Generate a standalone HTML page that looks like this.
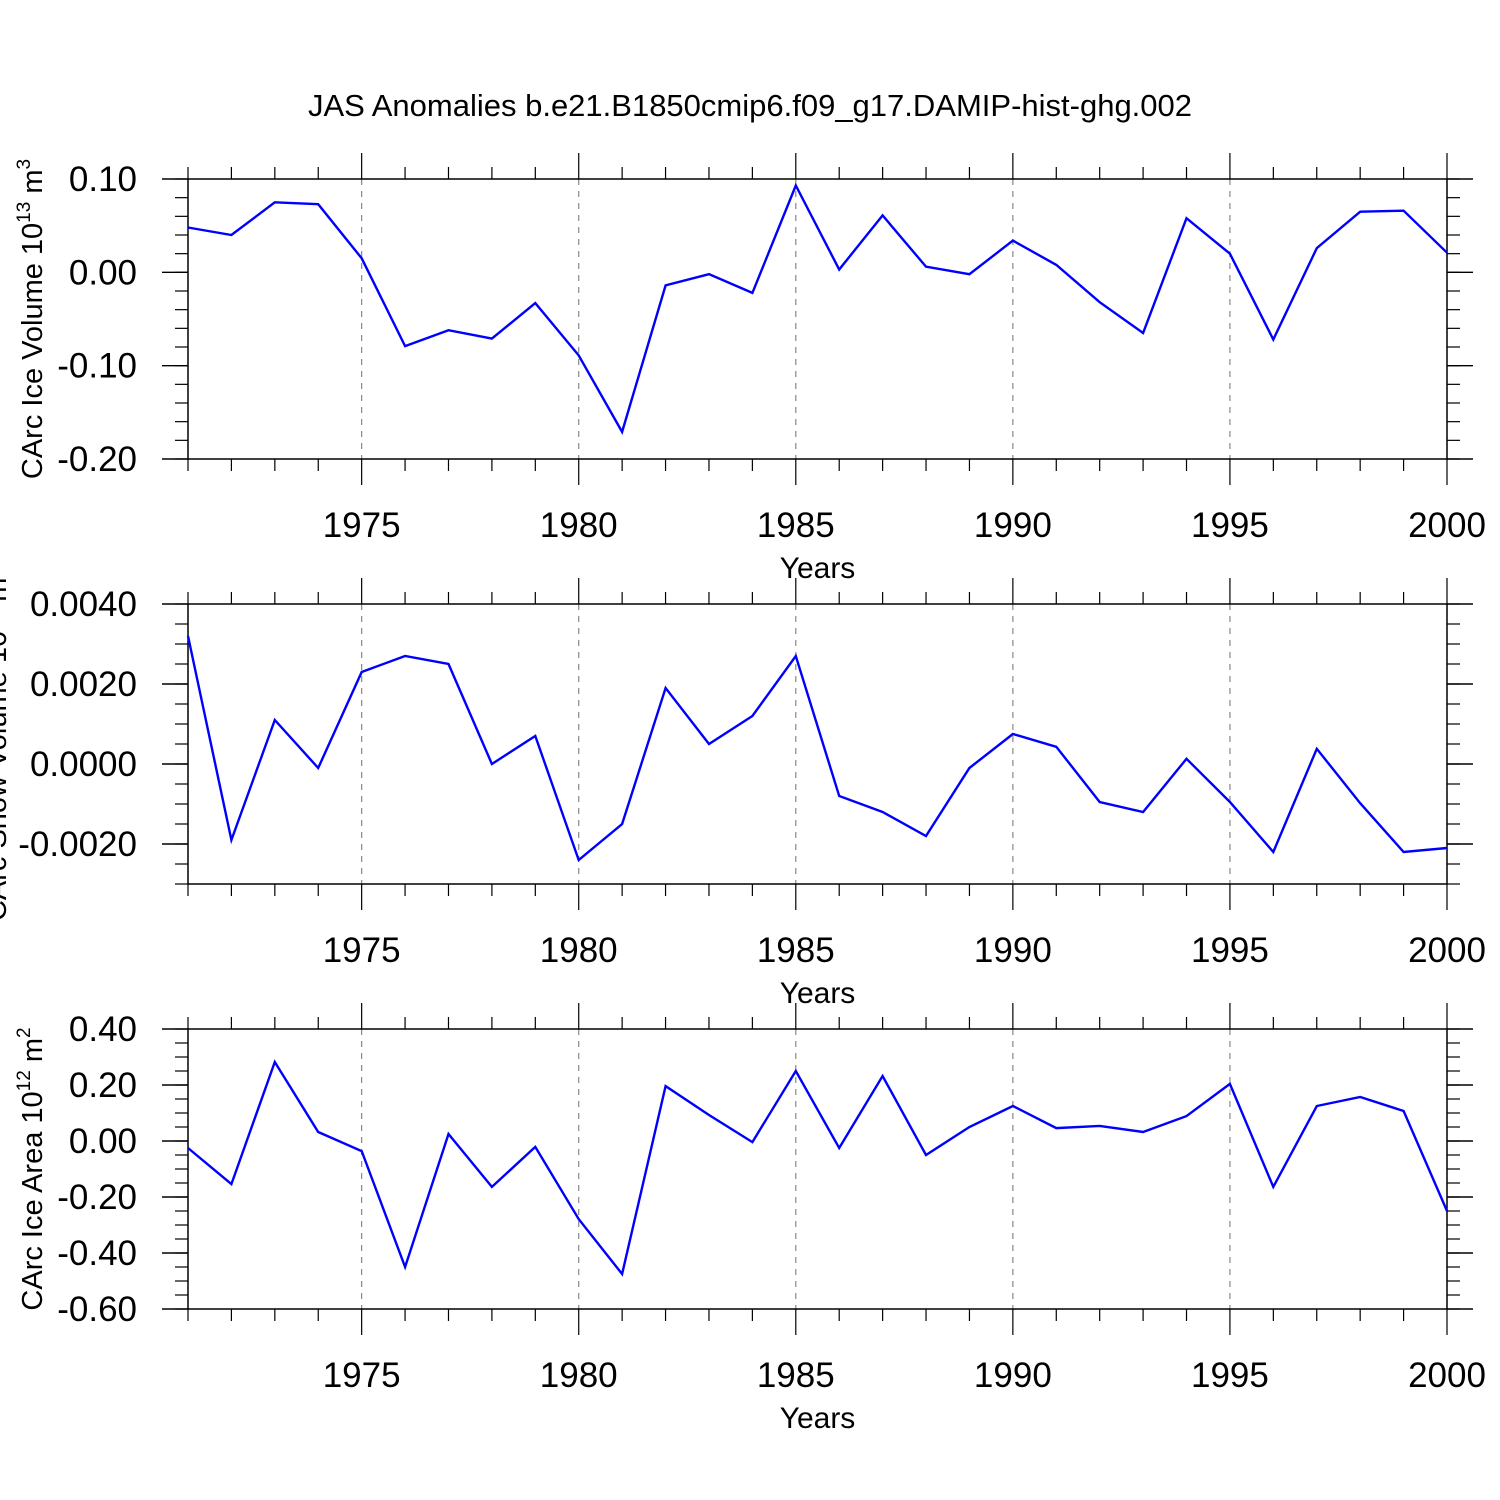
<!DOCTYPE html>
<html><head><meta charset="utf-8"><style>
html,body{margin:0;padding:0;background:#fff;}
svg{display:block;font-family:"Liberation Sans",Arial,sans-serif;}
</style></head><body>
<svg id="chart" width="1500" height="1500" viewBox="0 0 1500 1500" xmlns="http://www.w3.org/2000/svg">
<text x="750" y="116" font-size="31" text-anchor="middle">JAS Anomalies b.e21.B1850cmip6.f09_g17.DAMIP-hist-ghg.002</text>
</svg>
<script>
const years = [1971,1972,1973,1974,1975,1976,1977,1978,1979,1980,1981,1982,1983,1984,1985,1986,1987,1988,1989,1990,1991,1992,1993,1994,1995,1996,1997,1998,1999,2000];
const iceVolume = [0.048,0.040,0.075,0.073,0.015,-0.079,-0.062,-0.071,-0.033,-0.089,-0.171,-0.014,-0.002,-0.022,0.093,0.003,0.061,0.006,-0.002,0.034,0.008,-0.032,-0.065,0.058,0.020,-0.072,0.026,0.065,0.066,0.021];
const snowVolume = [0.0032,-0.0019,0.0011,-0.0001,0.0023,0.0027,0.0025,0.0000,0.0007,-0.0024,-0.0015,0.0019,0.0005,0.0012,0.0027,-0.0008,-0.0012,-0.0018,-0.0001,0.00075,0.00043,-0.00095,-0.0012,0.00013,-0.00095,-0.0022,0.00038,-0.00098,-0.0022,-0.0021];
const iceArea = [-0.025,-0.154,0.282,0.032,-0.036,-0.45,0.025,-0.164,-0.021,-0.279,-0.475,0.196,0.093,-0.004,0.25,-0.025,0.232,-0.05,0.05,0.125,0.046,0.054,0.032,0.089,0.204,-0.164,0.125,0.157,0.107,-0.25];
const xTickYears = [1975,1980,1985,1990,1995,2000];
const yTicks1 = [0.10,0.00,-0.10,-0.20];
const yTicks2 = [0.004,0.002,0.000,-0.002];
const yTicks3 = [0.40,0.20,0.00,-0.20,-0.40,-0.60];

const NS='http://www.w3.org/2000/svg';
const svg=document.getElementById('chart');
function mk(tag,attrs,parent){const e=document.createElementNS(NS,tag);for(const k in attrs)e.setAttribute(k,attrs[k]);(parent||svg).appendChild(e);return e;}
const X0=188,X1=1447;
function xs(yr){return X0+(yr-1971)*(X1-X0)/(2000-1971);}

function panel(o){
  const g=mk('g',{});
  
  
  const ys=v=>o.top+(o.ymax-v)*(o.bot-o.top)/(o.ymax-o.ymin);
  xTickYears.forEach(yr=>{ if(yr<2000){const l=mk('line',{x1:xs(yr),x2:xs(yr),y1:o.top,y2:o.bot,stroke:'#888','stroke-width':1.2,'stroke-dasharray':'6,6'},g);
    
    }});
  const fr=mk('rect',{x:X0,y:o.top,width:X1-X0,height:o.bot-o.top,fill:'none',stroke:'#000','stroke-width':1.5},g);
  
  
  for(let yr=1971;yr<=2000;yr++){
    const maj=yr%5===0;
    mk('line',{x1:xs(yr),x2:xs(yr),y1:o.top-(maj?26:12),y2:o.top,stroke:'#000','stroke-width':1.2},g);
    mk('line',{x1:xs(yr),x2:xs(yr),y1:o.bot,y2:o.bot+(maj?26:12),stroke:'#000','stroke-width':1.2},g);
  }
  xTickYears.forEach(yr=>{const t=mk('text',{x:xs(yr),y:o.bot+78,'font-size':35,'text-anchor':'middle'},g);t.textContent=yr;
    
    });
  const xt=mk('text',{x:(X0+X1)/2,y:o.bot+119,'font-size':30,'text-anchor':'middle'},g);xt.textContent='Years';
  
  
  const n=Math.round((o.ymax-o.ymin)/o.minor);
  for(let i=0;i<=n;i++){const y=ys(o.ymax-i*o.minor);
    mk('line',{x1:X0-13,x2:X0,y1:y,y2:y,stroke:'#000','stroke-width':1.2},g);
    mk('line',{x1:X1,x2:X1+13,y1:y,y2:y,stroke:'#000','stroke-width':1.2},g);}
  o.ticks.forEach(v=>{const y=ys(v);
    mk('line',{x1:X0-26,x2:X0,y1:y,y2:y,stroke:'#000','stroke-width':1.4},g);
    mk('line',{x1:X1,x2:X1+26,y1:y,y2:y,stroke:'#000','stroke-width':1.4},g);
    const t=mk('text',{x:137,y:y+12,'font-size':35,'text-anchor':'end'},g);t.textContent=v.toFixed(o.dec);
    
    });
  const cy=(o.top+o.bot)/2;
  const yt=mk('text',{x:0,y:0,'font-size':29,'text-anchor':'middle',transform:`translate(${o.tx},${cy}) rotate(-90)`},g);
  yt.innerHTML=o.title;
  
  
  const pts=o.data.map((v,i)=>xs(years[i]).toFixed(1)+','+ys(v).toFixed(1)).join(' ');
  const pl=mk('polyline',{points:pts,fill:'none',stroke:'#0000ff','stroke-width':2.4,'stroke-linejoin':'miter'},g);
  
  
}
panel({name:'ice-volume-panel',top:179,bot:459,ymax:0.10,ymin:-0.20,minor:0.02,ticks:yTicks1,dec:2,data:iceVolume,tx:42,
  title:'CArc Ice Volume 10<tspan font-size="19" dy="-12">13</tspan><tspan dy="12"> m</tspan><tspan font-size="19" dy="-12">3</tspan>'});
panel({name:'snow-volume-panel',top:604,bot:884,ymax:0.004,ymin:-0.003,minor:0.0005,ticks:yTicks2,dec:4,data:snowVolume,tx:6,
  title:'CArc Snow Volume 10<tspan font-size="19" dy="-12">13</tspan><tspan dy="12"> m</tspan><tspan font-size="19" dy="-12">3</tspan>'});
panel({name:'ice-area-panel',top:1029,bot:1309,ymax:0.40,ymin:-0.60,minor:0.05,ticks:yTicks3,dec:2,data:iceArea,tx:42,
  title:'CArc Ice Area 10<tspan font-size="19" dy="-12">12</tspan><tspan dy="12"> m</tspan><tspan font-size="19" dy="-12">2</tspan>'});
</script>
</body></html>
